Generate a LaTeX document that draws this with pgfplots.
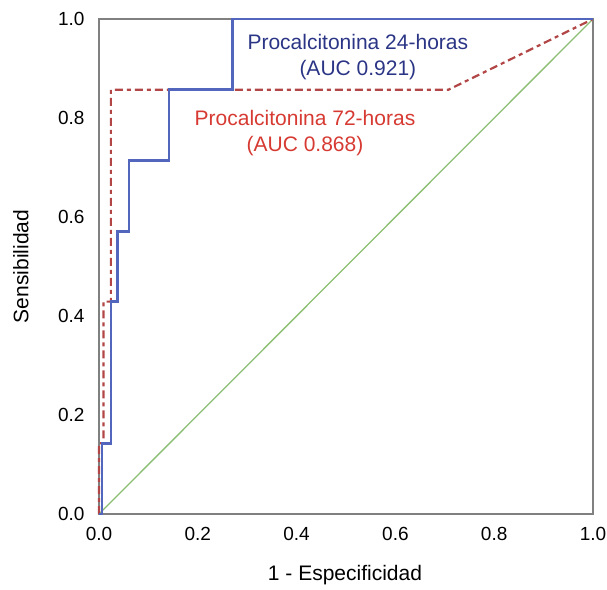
\documentclass[border=0pt]{standalone}
\usepackage{fontspec}
\setmainfont{Liberation Sans}
\usepackage{pgfplots}
\pgfplotsset{compat=1.18}
\definecolor{rocblue}{RGB}{82,102,190}
\definecolor{navytext}{RGB}{43,53,133}
\definecolor{rocred}{RGB}{178,70,70}
\definecolor{redtext}{RGB}{214,58,50}
\definecolor{rocgreen}{RGB}{140,190,115}
\definecolor{framegray}{RGB}{128,128,128}

\begin{document}
\begin{tikzpicture}
\begin{axis}[
  scale only axis,
  width=494pt, height=495pt,
  xmin=0, xmax=1, ymin=0, ymax=1,
  xtick={0,0.2,...,1.0}, ytick={0,0.2,...,1.0},
  xticklabel style={/pgf/number format/.cd, fixed, fixed zerofill, precision=1},
  yticklabel style={/pgf/number format/.cd, fixed, fixed zerofill, precision=1},
  /pgf/number format/assume math mode=true,
  major tick length=0pt,
  tick label style={font=\fontsize{19}{22}\selectfont},
  label style={font=\fontsize{21}{24}\selectfont},
  xticklabel shift=10pt,
  yticklabel shift=11pt,
  xlabel={1 - Especificidad},
  ylabel={Sensibilidad},
  xlabel style={at={(axis description cs:0.498,-0.124)}, anchor=center},
  ylabel style={at={(axis description cs:-0.158,0.5)}, anchor=center},
  axis line style={framegray, line width=1.3pt},
  clip=false,
]
  % diagonal de referencia
  \addplot[rocgreen, line width=1.3pt] coordinates {(0,0) (1,1)};
  % 72 horas
  \addplot[rocred, line width=2.2pt, dash pattern=on 8pt off 4pt on 4pt off 4pt] coordinates {
    (0.000,0.000) (0.000,0.143) (0.009,0.143) (0.009,0.429) (0.024,0.429)
    (0.024,0.857) (0.707,0.857) (1.000,1.000)
  };
  % 24 horas
  \addplot[rocblue, line width=2.6pt] coordinates {
    (0.000,0.000) (0.006,0.000) (0.006,0.143) (0.024,0.143) (0.024,0.429)
    (0.038,0.429) (0.038,0.571) (0.061,0.571) (0.061,0.714) (0.142,0.714)
    (0.142,0.857) (0.270,0.857) (0.270,1.000) (1.000,1.000)
  };
  \node[navytext, align=center, font=\fontsize{21}{26}\selectfont] at (axis cs:0.524,0.923)
    {Procalcitonina 24-horas\\(AUC 0.921)};
  \node[redtext, align=center, font=\fontsize{21}{26}\selectfont] at (axis cs:0.417,0.770)
    {Procalcitonina 72-horas\\(AUC 0.868)};
\end{axis}
\path (current axis.south west) ++(-99pt,-75pt) coordinate (bbA);
\path (current axis.north east) ++(14pt,19pt) coordinate (bbB);
\pgfresetboundingbox
\useasboundingbox (bbA) rectangle (bbB);
\end{tikzpicture}
\end{document}
